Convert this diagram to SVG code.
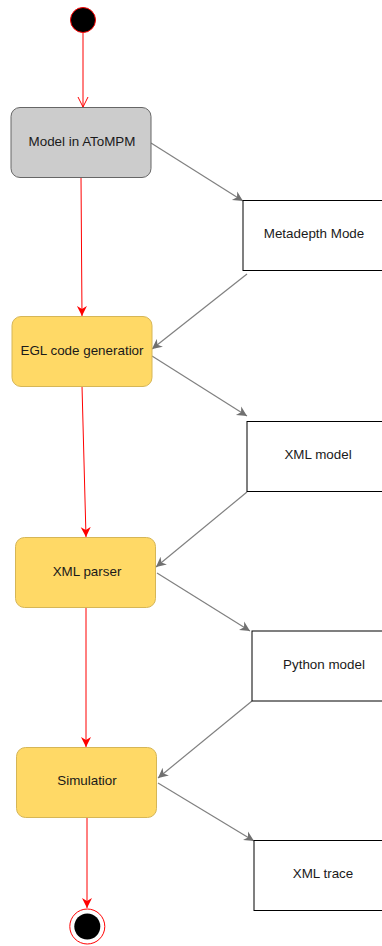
<svg xmlns="http://www.w3.org/2000/svg" width="382" height="946" viewBox="0 0 382 946">
<style>
  .lbl{font-family:"Liberation Sans",Arial,sans-serif;font-size:13.4px;fill:#1a1a1a;text-anchor:middle;dominant-baseline:central}
  .box{fill:#ffffff;stroke:#000000;stroke-width:1}
  .act{fill:#ffd966;stroke:#d6b656;stroke-width:1}
  .gray{fill:#cccccc;stroke:#666666;stroke-width:1}
  .red{stroke:#ff0000;stroke-width:1;fill:none}
  .gl{stroke:#808080;stroke-width:1.2;fill:none}
</style>
<defs>
  <marker id="ra" markerUnits="userSpaceOnUse" markerWidth="12" markerHeight="12" refX="10" refY="5" orient="auto" viewBox="0 0 12 10">
    <path d="M0,0 L10,5 L0,10 L3,5 z" fill="#ff0000"/>
  </marker>
  <marker id="ro" markerUnits="userSpaceOnUse" markerWidth="12" markerHeight="12" refX="10" refY="5" orient="auto" viewBox="0 0 12 10">
    <path d="M0,0 L10,5 L0,10" fill="none" stroke="#ff0000" stroke-width="1"/>
  </marker>
  <marker id="ga" markerUnits="userSpaceOnUse" markerWidth="12" markerHeight="12" refX="10" refY="5" orient="auto" viewBox="0 0 12 10">
    <path d="M0,0 L10,5 L0,10 L3,5 z" fill="#707070"/>
  </marker>
</defs>
<g id="connectors">
  <line class="red" x1="83" y1="33" x2="83" y2="107" marker-end="url(#ro)"/>
  <line class="red" x1="81" y1="177" x2="82" y2="316" marker-end="url(#ra)"/>
  <line class="red" x1="82" y1="386" x2="86" y2="537" marker-end="url(#ra)"/>
  <line class="red" x1="86" y1="607" x2="86" y2="747" marker-end="url(#ra)"/>
  <line class="red" x1="87" y1="817" x2="87" y2="908" marker-end="url(#ra)"/>
  <line class="gl" x1="151" y1="143" x2="243" y2="201" marker-end="url(#ga)"/>
  <line class="gl" x1="247" y1="274" x2="152" y2="349" marker-end="url(#ga)"/>
  <line class="gl" x1="152" y1="356" x2="247" y2="416" marker-end="url(#ga)"/>
  <line class="gl" x1="247" y1="492" x2="156" y2="567" marker-end="url(#ga)"/>
  <line class="gl" x1="157" y1="573" x2="250" y2="631" marker-end="url(#ga)"/>
  <line class="gl" x1="252" y1="701" x2="158" y2="778" marker-end="url(#ga)"/>
  <line class="gl" x1="158" y1="783" x2="254" y2="841" marker-end="url(#ga)"/>
</g>
<g id="start">
  <circle cx="83" cy="20" r="12.5" fill="#000" stroke="#ff0000" stroke-width="1"/>
</g>
<g id="model-atompm">
  <rect class="gray" x="11" y="107.5" width="140" height="70" rx="9"/>
  <text class="lbl" x="82" y="141">Model in AToMPM</text>
</g>
<g id="metadepth">
  <rect class="box" x="243" y="200.5" width="142" height="70"/>
  <text class="lbl" x="314" y="233">Metadepth Mode</text>
</g>
<g id="egl">
  <rect class="act" x="12" y="316.5" width="140" height="70" rx="9"/>
  <text class="lbl" x="82" y="350">EGL code generatior</text>
</g>
<g id="xml-model">
  <rect class="box" x="247" y="421.5" width="142" height="70"/>
  <text class="lbl" x="318" y="454">XML model</text>
</g>
<g id="xml-parser">
  <rect class="act" x="15.5" y="537.5" width="140" height="70" rx="9"/>
  <text class="lbl" x="87" y="571">XML parser</text>
</g>
<g id="python-model">
  <rect class="box" x="252" y="631" width="142" height="70"/>
  <text class="lbl" x="324" y="664">Python model</text>
</g>
<g id="simulation">
  <rect class="act" x="16.5" y="747.5" width="140" height="70" rx="9"/>
  <text class="lbl" x="87" y="780">Simulatior</text>
</g>
<g id="xml-trace">
  <rect class="box" x="254" y="840.5" width="142" height="70"/>
  <text class="lbl" x="323" y="873">XML trace</text>
</g>
<g id="end">
  <circle cx="87.3" cy="926.5" r="17.5" fill="#fff" stroke="#ff0000" stroke-width="1"/>
  <circle cx="87.3" cy="926.5" r="13" fill="#000"/>
</g>
</svg>
